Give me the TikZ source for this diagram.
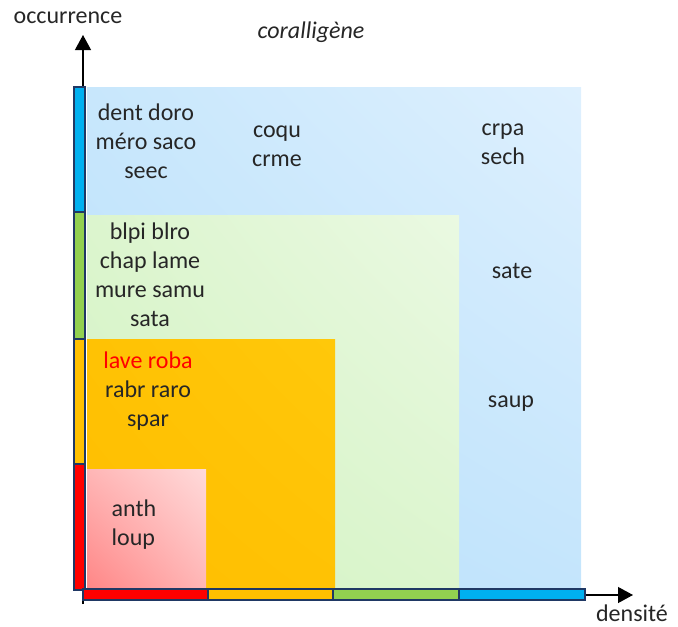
\documentclass[tikz,border=0pt]{standalone}
\usepackage{fontspec}
\setmainfont{Carlito}
\usetikzlibrary{arrows.meta,shadings}
\definecolor{barblue}{HTML}{00B0F0}
\definecolor{bargreen}{HTML}{92D050}
\definecolor{baryellow}{HTML}{FFC000}
\definecolor{barred}{HTML}{FF0000}
\definecolor{barline}{HTML}{1F3864}
\definecolor{txt}{HTML}{262626}
\definecolor{bLL}{HTML}{B8E0FA}
\definecolor{bUR}{HTML}{DEF0FE}
\definecolor{bUL}{HTML}{C8E7FC}
\definecolor{bLR}{HTML}{C4E5FC}
\definecolor{gLL}{HTML}{D2F3C2}
\definecolor{gUR}{HTML}{EAF9E2}
\definecolor{gMID}{HTML}{DCF5CE}
\definecolor{oLL}{HTML}{FFBE00}
\definecolor{oUR}{HTML}{FFC80A}
\definecolor{oMID}{HTML}{FFC204}
\definecolor{pLL}{HTML}{FF8686}
\definecolor{pUR}{HTML}{FFDADA}
\definecolor{pMID}{HTML}{FFB6B6}
\tikzset{
  bar/.style={draw=barline, line width=1.6pt},
  axis/.style={line width=1.2pt, -{Triangle[width=16pt,length=15pt]}},
  lbl/.style={text=txt, align=center, font=\fontsize{24}{29}\selectfont, inner sep=0pt},
}
\begin{document}
\begin{tikzpicture}[x=1pt,y=-1pt]
\useasboundingbox (0,0) rectangle (678,627);
% zones
\shade[lower left=bLL, upper right=bUR, upper left=bUL, lower right=bLR]
  (87,87) rectangle (581,589);
\shade[lower left=gLL, upper right=gUR, upper left=gMID, lower right=gMID]
  (87,215) rectangle (459,589);
\shade[lower left=oLL, upper right=oUR, upper left=oMID, lower right=oMID]
  (87,339) rectangle (335,589);
\shade[lower left=pLL, upper right=pUR, upper left=pMID, lower right=pMID]
  (87,469) rectangle (206,589);
% axes
\coordinate (o) at (83,604);
\coordinate (ytip) at (83,35);
\coordinate (ox) at (83,595);
\coordinate (xtip) at (633,595);
\draw[axis] (o) -- (ytip);
\draw[axis] (ox) -- (xtip);
% vertical bar
\draw[bar, fill=barblue]   (74,87)  rectangle (85,212);
\draw[bar, fill=bargreen]  (74,212) rectangle (85,339);
\draw[bar, fill=baryellow] (74,339) rectangle (85,464);
\draw[bar, fill=barred]    (74,464) rectangle (85,590);
% horizontal bar
\draw[bar, fill=barred]    (83,589)  rectangle (208,600);
\draw[bar, fill=baryellow] (208,589) rectangle (333,600);
\draw[bar, fill=bargreen]  (333,589) rectangle (459,600);
\draw[bar, fill=barblue]   (459,589) rectangle (585,600);
% labels
\node[lbl] (occ) at (68,18) {occurrence};
\node[lbl] (dens) at (632,613) {densité};
\node[lbl, font=\fontsize{24}{29}\selectfont\itshape] (cor) at (311,32) {coralligène};
\node[lbl] (t1) at (146,141) {dent doro\\méro saco\\seec};
\node[lbl] (t2) at (277,146) {coqu\\crme};
\node[lbl] (t3) at (503,144) {crpa\\sech};
\node[lbl] (t4) at (150,275) {blpi blro\\chap lame\\mure samu\\sata};
\node[lbl] (t5) at (512,271) {sate};
\node[lbl] (t6) at (148,391) {\textcolor{barred}{lave roba}\\rabr raro\\spar};
\node[lbl] (t7) at (511,404) {saup};
\node[lbl, align=left] (t8) at (134,525) {anth\\loup};
\end{tikzpicture}
\end{document}
